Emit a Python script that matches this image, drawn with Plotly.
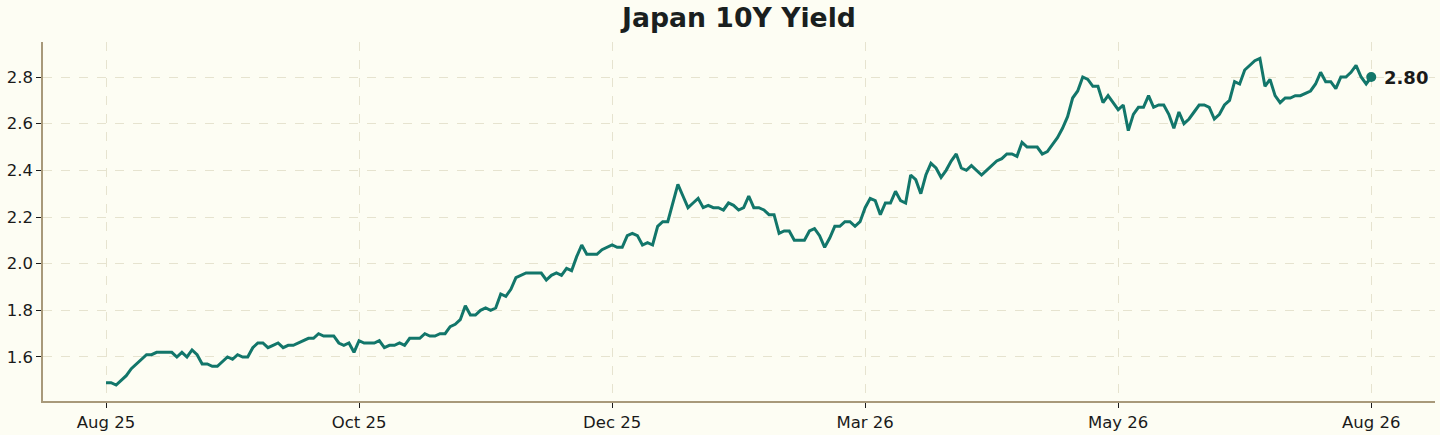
import plotly.graph_objects as go

# Japan 10Y government bond yield, daily (business days)
yields = [
    1.49, 1.49, 1.48, 1.50, 1.52, 1.55, 1.57, 1.59, 1.61, 1.61,
    1.62, 1.62, 1.62, 1.62, 1.60, 1.62, 1.60, 1.63, 1.61, 1.57,
    1.57, 1.56, 1.56, 1.58, 1.60, 1.59, 1.61, 1.60, 1.60, 1.64,
    1.66, 1.66, 1.64, 1.65, 1.66, 1.64, 1.65, 1.65, 1.66, 1.67,
    1.68, 1.68, 1.70, 1.69, 1.69, 1.69, 1.66, 1.65, 1.66, 1.62,
    1.67, 1.66, 1.66, 1.66, 1.67, 1.64, 1.65, 1.65, 1.66, 1.65,
    1.68, 1.68, 1.68, 1.70, 1.69, 1.69, 1.70, 1.70, 1.73, 1.74,
    1.76, 1.82, 1.78, 1.78, 1.80, 1.81, 1.80, 1.81, 1.87, 1.86,
    1.89, 1.94, 1.95, 1.96, 1.96, 1.96, 1.96, 1.93, 1.95, 1.96,
    1.95, 1.98, 1.97, 2.03, 2.08, 2.04, 2.04, 2.04, 2.06, 2.07,
    2.08, 2.07, 2.07, 2.12, 2.13, 2.12, 2.08, 2.09, 2.08, 2.16,
    2.18, 2.18, 2.26, 2.34, 2.29, 2.24, 2.26, 2.28, 2.24, 2.25,
    2.24, 2.24, 2.23, 2.26, 2.25, 2.23, 2.24, 2.29, 2.24, 2.24,
    2.23, 2.21, 2.21, 2.13, 2.14, 2.14, 2.10, 2.10, 2.10, 2.14,
    2.15, 2.12, 2.07, 2.11, 2.16, 2.16, 2.18, 2.18, 2.16, 2.18,
    2.24, 2.28, 2.27, 2.21, 2.26, 2.26, 2.31, 2.27, 2.26, 2.38,
    2.36, 2.30, 2.38, 2.43, 2.41, 2.37, 2.40, 2.44, 2.47, 2.41,
    2.40, 2.42, 2.40, 2.38, 2.40, 2.42, 2.44, 2.45, 2.47, 2.47,
    2.46, 2.52, 2.50, 2.50, 2.50, 2.47, 2.48, 2.51, 2.54, 2.58,
    2.63, 2.71, 2.74, 2.80, 2.79, 2.76, 2.76, 2.69, 2.72, 2.69,
    2.66, 2.68, 2.57, 2.64, 2.67, 2.67, 2.72, 2.67, 2.68, 2.68,
    2.64, 2.58, 2.65, 2.60, 2.62, 2.65, 2.68, 2.68, 2.67, 2.62,
    2.64, 2.68, 2.70, 2.78, 2.77, 2.83, 2.85, 2.87, 2.88, 2.76,
    2.79, 2.72, 2.69, 2.71, 2.71, 2.72, 2.72, 2.73, 2.74, 2.77,
    2.82, 2.78, 2.78, 2.75, 2.80, 2.80, 2.82, 2.85, 2.80, 2.77,
    2.80,
]
days = list(range(len(yields)))

tick_pos = [0, 50, 100, 150, 200, 250]
tick_labels = ['Aug 25', 'Oct 25', 'Dec 25', 'Mar 26', 'May 26', 'Aug 26']
y_ticks = [1.6, 1.8, 2.0, 2.2, 2.4, 2.6, 2.8]

line_color = '#12766a'
bg = '#fdfdf3'

trace = go.Scatter(
    x=days,
    y=yields,
    mode='lines',
    line=dict(color=line_color, width=3),
    hoverinfo='y',
)

last = go.Scatter(
    x=[days[-1]],
    y=[yields[-1]],
    mode='markers',
    marker=dict(color=line_color, size=10),
    hoverinfo='y',
)

layout = go.Layout(
    title=dict(text='<b>Japan 10Y Yield</b>', xref='paper', x=0.5, xanchor='center', y=0.96, yanchor='middle',
               font=dict(family='DejaVu Sans', size=26.7, color='#1a1f1f')),
    width=1440,
    height=435,
    margin=dict(l=43, r=5, t=42, b=34),
    paper_bgcolor=bg,
    plot_bgcolor=bg,
    showlegend=False,
    font=dict(family='DejaVu Sans', size=16, color='#1a1a1a'),
    xaxis=dict(
        range=[-12.45, 262.6],
        tickvals=tick_pos,
        ticktext=tick_labels,
        automargin=False,
        showgrid=True,
        gridcolor='#e6e3cf',
        griddash='dash',
        gridwidth=1,
        zeroline=False,
        showline=True,
        linecolor='#a8997a',
        linewidth=1.5,
        ticks='outside',
        ticklen=5,
        tickcolor='#1a1a1a',
        tickfont=dict(size=16.5),
    ),
    yaxis=dict(
        range=[1.4114, 2.95],
        tickvals=y_ticks,
        tickformat='.1f',
        automargin=False,
        showgrid=True,
        gridcolor='#e6e3cf',
        griddash='dash',
        gridwidth=1,
        zeroline=False,
        showline=True,
        linecolor='#a8997a',
        linewidth=1.5,
        ticks='outside',
        ticklen=5,
        tickcolor='#1a1a1a',
        tickfont=dict(size=16.5),
    ),
    annotations=[dict(
        x=days[-1], y=yields[-1], xref='x', yref='y',
        text='<b>%.2f</b>' % yields[-1], showarrow=False,
        xanchor='left', xshift=11,
        font=dict(family='DejaVu Sans', size=18, color='#1a1a1a'),
    )],
)

fig = go.Figure(data=[trace, last], layout=layout)

fig.write_html('out.html', config={'displayModeBar': False},
               post_script="document.body.style.margin='0';")
